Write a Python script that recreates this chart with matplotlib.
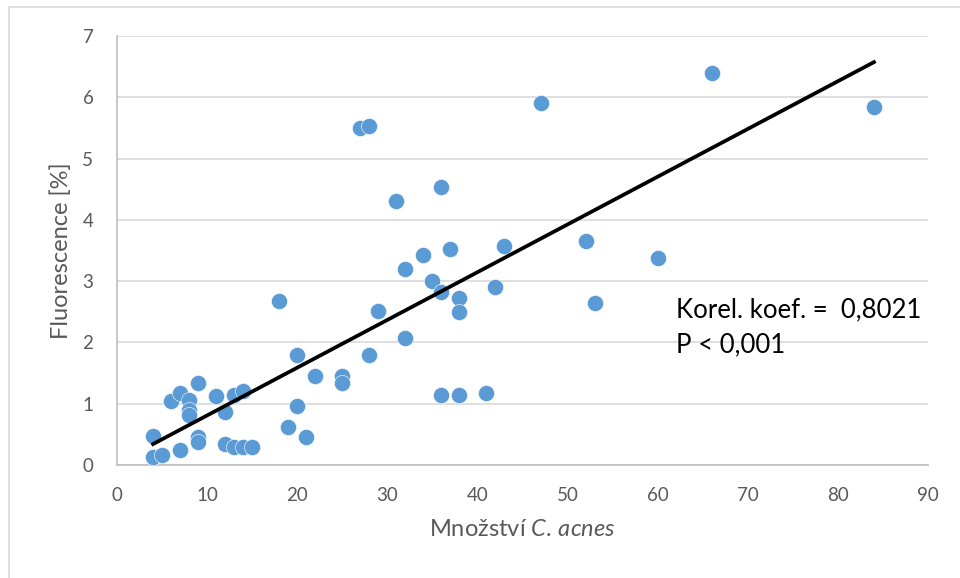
import numpy as np
import matplotlib
matplotlib.use("Agg")
import matplotlib.pyplot as plt
from matplotlib.patches import Rectangle

plt.rcParams['font.family'] = ['Lato', 'DejaVu Sans']
plt.rcParams['mathtext.fontset'] = 'custom'
plt.rcParams['mathtext.rm'] = 'Lato'
plt.rcParams['mathtext.it'] = 'Lato:italic'

# C. acnes count vs. fluorescence
amount = [4, 4, 5, 6, 7, 7, 8, 8, 8, 9, 9, 9, 11, 12, 12, 13, 13, 14, 14, 15,
          18, 19, 20, 20, 21, 22, 25, 25, 27, 28, 28, 29, 31, 32, 32, 34, 35,
          36, 36, 36, 37, 38, 38, 38, 41, 42, 43, 47, 52, 53, 60, 66, 84]
fluorescence = [0.47, 0.13, 0.16, 1.05, 1.17, 0.25, 1.06, 0.90, 0.82, 1.34,
                0.46, 0.38, 1.13, 0.86, 0.35, 1.15, 0.29, 1.21, 0.30, 0.29,
                2.67, 0.62, 1.80, 0.96, 0.46, 1.46, 1.45, 1.34, 5.50, 5.53,
                1.80, 2.51, 4.30, 3.20, 2.07, 3.43, 3.00, 4.54, 2.83, 1.14,
                3.52, 2.72, 2.50, 1.14, 1.17, 2.90, 3.58, 5.90, 3.66, 2.64,
                3.38, 6.40, 5.84]

# linear trend (Excel trendline)
trend_slope = 0.0779
trend_intercept = 0.03

stat_lines = ["Korel. koef. =  0,8021", "P < 0,001"]
stat_x = 62
stat_y = [2.41, 1.84]

grey = '#595959'

fig = plt.figure(figsize=(9.6, 5.78), dpi=100)
# outer chart border
fig.patches.append(Rectangle((9 / 960, -0.05), 1.0, 1 - 7 / 578 + 0.05,
                             transform=fig.transFigure, fill=False,
                             edgecolor='#d9d9d9', linewidth=1.2))

ax = fig.add_axes([117 / 960, 1 - 465 / 578, (928 - 117) / 960, (465 - 36) / 578])

x = np.array(amount, dtype=float)
y = np.array(fluorescence)
ax.scatter(x, y, s=135, color='#5B9BD5', edgecolors='white', linewidths=0.4,
           zorder=3)

xs = np.array([x.min(), x.max()])
ax.plot(xs, trend_slope * xs + trend_intercept, color='black', linewidth=2.7,
        zorder=4)

for line, ty in zip(stat_lines, stat_y):
    ax.text(stat_x, ty, line, fontsize=18.5, color='black', va='baseline',
            ha='left', zorder=5)

ax.set_xlim(0, 90)
ax.set_ylim(0, 7)
ax.set_xticks(range(0, 91, 10))
ax.set_yticks(range(0, 8))
ax.grid(axis='y', color='#d9d9d9', linewidth=1.2)
ax.set_axisbelow(True)
for side in ('top', 'right'):
    ax.spines[side].set_visible(False)
for side in ('left', 'bottom'):
    ax.spines[side].set_color('#bfbfbf')
    ax.spines[side].set_linewidth(1.2)
ax.tick_params(length=0, labelsize=13.5, colors=grey)
ax.tick_params(axis='x', pad=16)
ax.tick_params(axis='y', pad=17)

ax.set_xlabel(r"Množství $C.\,acnes$", fontsize=17, color=grey)
ax.set_ylabel("Fluorescence [%]", fontsize=17, color=grey)
ax.xaxis.set_label_coords(0.5, -0.125)
ax.yaxis.set_label_coords(-0.056, 0.5)

fig.savefig("out.png", dpi=100)
